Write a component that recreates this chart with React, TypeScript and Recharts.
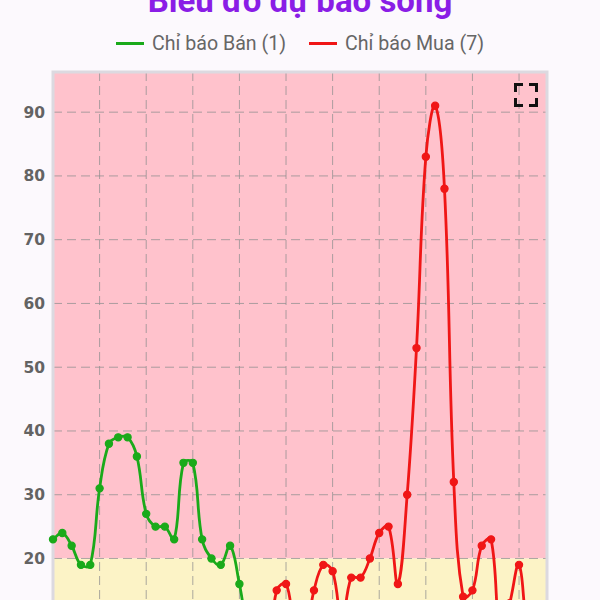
import React from "react";
import { LineChart, Line, XAxis, YAxis, CartesianGrid, ReferenceArea } from "recharts";

const TITLE = "Biểu đồ dự báo sóng";
const SERIES_NAMES = ["Chỉ báo Bán (1)", "Chỉ báo Mua (7)"];
const SERIES_COLORS = ["#1aaa1a", "#f01616"];

const sellValues = [
  23, 24, 22, 19, 19, 31, 38, 39, 39, 36, 27, 25, 25, 23, 35, 35, 23, 20, 19, 22, 16,
  8, 5, 4, 6, 7, 5, 3, 4, 6, 5, 3, 2, 4, 5, 3, 2, 1, 1, 2, 3, 2, 1, 2, 4, 3, 2, 3, 5, 4, 3, 2, 3, 4,
];
const buyValues = [
  4, 3, 5, 6, 4, 3, 2, 4, 5, 3, 2, 3, 5, 4, 3, 2, 4, 6, 5, 3, 4, 3, 4, 5,
  15, 16, 9, 8, 15, 19, 18, 10, 17, 17, 20, 24, 25, 16, 30, 53, 83, 91, 78, 32, 14, 15, 22, 23, 8, 13, 19, 8, 6, 5,
];
const xTicks = [0, 5, 10, 15, 20, 25, 30, 35, 40, 45, 50];
const yTicks = [0, 10, 20, 30, 40, 50, 60, 70, 80, 90];
const Y_MAX = 96.3;
const ZONE_SPLIT = 20;

const data = sellValues.map((v, i) => ({ i, sell: v, buy: buyValues[i] }));

function chartJsCurve(context: any) {
  let pts: [number, number][] = [];
  return {
    areaStart() {},
    areaEnd() {},
    lineStart() {
      pts = [];
    },
    lineEnd() {
      const n = pts.length;
      if (!n) return;
      const t = 0.4;
      const cps = pts.map((p, i) => {
        const p0 = pts[i - 1] || p;
        const p2 = pts[i + 1] || p;
        const d01 = Math.hypot(p[0] - p0[0], p[1] - p0[1]);
        const d12 = Math.hypot(p2[0] - p[0], p2[1] - p[1]);
        let s01 = d01 / (d01 + d12);
        let s12 = d12 / (d01 + d12);
        if (!isFinite(s01)) s01 = 0;
        if (!isFinite(s12)) s12 = 0;
        const fa = t * s01;
        const fb = t * s12;
        return {
          px: p[0] - fa * (p2[0] - p0[0]),
          py: p[1] - fa * (p2[1] - p0[1]),
          nx: p[0] + fb * (p2[0] - p0[0]),
          ny: p[1] + fb * (p2[1] - p0[1]),
        };
      });
      context.moveTo(pts[0][0], pts[0][1]);
      for (let k = 1; k < n; k++) {
        context.bezierCurveTo(cps[k - 1].nx, cps[k - 1].ny, cps[k].px, cps[k].py, pts[k][0], pts[k][1]);
      }
    },
    point(x: number, y: number) {
      pts.push([+x, +y]);
    },
  };
}

export default function App() {
  return (
    <div
      style={{
        position: "absolute",
        left: 0,
        top: 0,
        width: 600,
        height: 722,
        background: "#fcf9fd",
        overflow: "hidden",
      }}
    >
      <svg width={600} height={30} style={{ position: "absolute", left: 0, top: 0 }}>
        <text
          x={300}
          y={12}
          textAnchor="middle"
          fontFamily="Roboto"
          fontWeight={700}
          fontSize={33}
          fill="#8a1de6"
        >
          {TITLE}
        </text>
      </svg>
      <div
        style={{
          position: "absolute",
          left: 0,
          top: 30,
          width: 600,
          height: 26,
          display: "flex",
          justifyContent: "center",
          alignItems: "center",
          gap: 23,
          fontFamily: "Roboto",
          fontSize: 19.6,
          color: "#666",
        }}
      >
        {SERIES_NAMES.map((n, k) => (
          <div key={n} style={{ display: "flex", alignItems: "center", gap: 8 }}>
            <div style={{ width: 28, height: 3, background: SERIES_COLORS[k] }} />
            <span>{n}</span>
          </div>
        ))}
      </div>
      <div style={{ position: "absolute", left: 0, top: 0 }}>
        <LineChart width={600} height={722} data={data} margin={{ top: 72, right: 53, bottom: 6, left: 8 }}>
          <ReferenceArea y1={ZONE_SPLIT} y2={Y_MAX} fill="#ffc2cc" fillOpacity={1} stroke="none" zIndex={-200} />
          <ReferenceArea y1={0} y2={ZONE_SPLIT} fill="#fcf3c6" fillOpacity={1} stroke="none" zIndex={-200} />
          <CartesianGrid stroke="#8f8f8f" strokeOpacity={0.75} strokeDasharray="9 5" />
          <ReferenceArea
            x1={0}
            x2={data.length - 1}
            y1={0}
            y2={Y_MAX}
            fill="none"
            stroke="#dcd9e0"
            strokeWidth={3}
          />
          <XAxis
            dataKey="i"
            type="number"
            domain={[0, data.length - 1]}
            ticks={xTicks}
            axisLine={false}
            tickLine={false}
            tick={{ fontSize: 13, fill: "#666" }}
          />
          <YAxis
            type="number"
            domain={[0, Y_MAX]}
            ticks={yTicks}
            width={45}
            axisLine={false}
            tickLine={false}
            tick={{ fontFamily: "DejaVu Sans", fontWeight: 700, fontSize: 15.5, fill: "#636363" }}
          />
          <Line
            dataKey="sell"
            name={SERIES_NAMES[0]}
            type={chartJsCurve as any}
            stroke={SERIES_COLORS[0]}
            strokeWidth={2.8}
            dot={{ r: 3.6, fill: SERIES_COLORS[0], stroke: SERIES_COLORS[0], strokeWidth: 1.2 }}
            isAnimationActive={false}
          />
          <Line
            dataKey="buy"
            name={SERIES_NAMES[1]}
            type={chartJsCurve as any}
            stroke={SERIES_COLORS[1]}
            strokeWidth={2.8}
            dot={{ r: 3.6, fill: SERIES_COLORS[1], stroke: SERIES_COLORS[1], strokeWidth: 1.2 }}
            isAnimationActive={false}
          />
        </LineChart>
      </div>
      <svg width={28} height={28} style={{ position: "absolute", left: 512, top: 81 }}>
        <g stroke="#111" strokeWidth={3} fill="none">
          <path d="M3.5 11 V3.5 H11" />
          <path d="M17 3.5 H24.5 V11" />
          <path d="M24.5 17 V24.5 H17" />
          <path d="M11 24.5 H3.5 V17" />
        </g>
      </svg>
    </div>
  );
}
